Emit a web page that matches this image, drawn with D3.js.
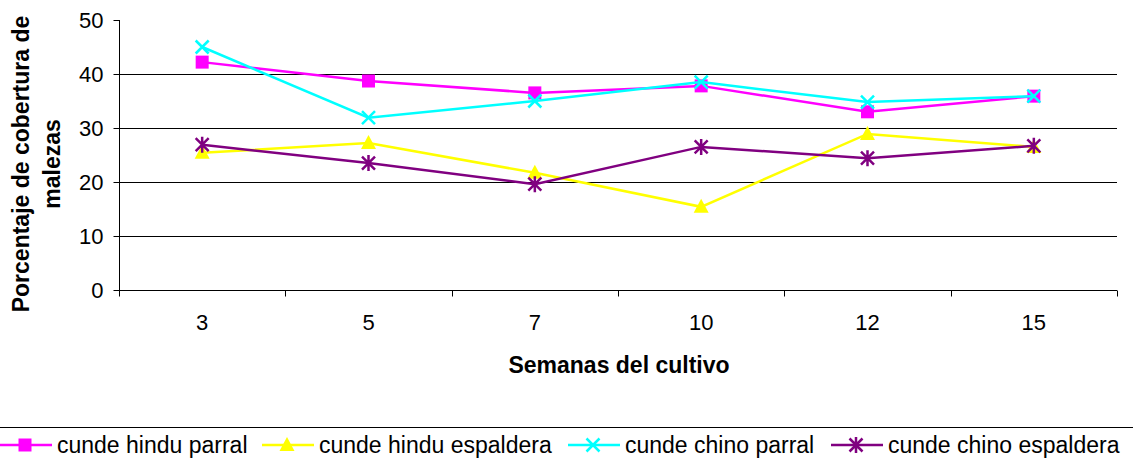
<!DOCTYPE html>
<html>
<head>
<meta charset="utf-8">
<script src="https://cdn.jsdelivr.net/npm/d3@7"></script>
<style>
	body { margin: 0; background: #fff; }
	svg { font-family: 'Liberation Sans', Arial, sans-serif; }
</style>
</head>
<body>
<svg id="chart" width="1133" height="462"></svg>
<script>
const weeks = ['3', '5', '7', '10', '12', '15']
const hinduParral = [42.2, 38.7, 36.5, 37.8, 33.0, 35.9]
const hinduEspaldera = [25.4, 27.2, 21.7, 15.4, 28.9, 26.5]
const chinoParral = [45.0, 31.9, 35.0, 38.5, 34.8, 35.9]
const chinoEspaldera = [26.9, 23.5, 19.6, 26.5, 24.4, 26.7]
const yTicks = [0, 10, 20, 30, 40, 50]

const series = [
	{ name: 'cunde hindu parral', values: hinduParral, color: '#ff00ff', marker: 'square' },
	{ name: 'cunde hindu espaldera', values: hinduEspaldera, color: '#ffff00', marker: 'triangle' },
	{ name: 'cunde chino parral', values: chinoParral, color: '#00ffff', marker: 'cross' },
	{ name: 'cunde chino espaldera', values: chinoEspaldera, color: '#800080', marker: 'star' }
]

const svg = d3.select('#chart')
const plotLeft = 119, plotRight = 1117, plotTop = 20, plotBottom = 290

const x = d3.scaleBand()
	.domain(weeks)
	.range([plotLeft, plotRight])

const y = d3.scaleLinear()
	.domain([0, 50])
	.range([plotBottom, plotTop])

// gridlines
svg.append('g')
	.selectAll('line')
	.data(yTicks.filter(d => d > 0 && d < 50))
	.enter()
	.append('line')
	.attr('x1', plotLeft)
	.attr('x2', plotRight)
	.attr('y1', d => Math.round(y(d)) + 0.5)
	.attr('y2', d => Math.round(y(d)) + 0.5)
	.style('stroke', '#000')

// y axis
const yAxis = svg.append('g')
	.attr('transform', `translate(${plotLeft + 0.5},0)`)
	.call(d3.axisLeft(y).tickValues(yTicks).tickSize(6).tickPadding(10))
yAxis.select('.domain').attr('d', `M0,${plotTop}V${plotBottom + 0.5}`)
yAxis.selectAll('text').style('font-size', '22px').style('fill', '#000')

// x axis
const xAxis = svg.append('g')
	.attr('transform', `translate(0,${plotBottom + 0.5})`)
	.call(d3.axisBottom(x).tickSize(0).tickPadding(24))
xAxis.select('.domain').attr('d', `M${plotLeft},0H${plotRight}`)
xAxis.selectAll('text').style('font-size', '22px').style('fill', '#000')
xAxis.selectAll('.sep')
	.data(weeks.map(d => x(d)).concat([plotRight]))
	.enter()
	.append('line')
	.attr('x1', d => Math.round(d) + 0.5)
	.attr('x2', d => Math.round(d) + 0.5)
	.attr('y1', 0)
	.attr('y2', 6)
	.style('stroke', '#000')

svg.append('text')
	.attr('x', 619)
	.attr('y', 373)
	.attr('text-anchor', 'middle')
	.style('font-size', '23px')
	.style('font-weight', 'bold')
	.text('Semanas del cultivo')

const yTitle = svg.append('text')
	.attr('transform', 'translate(29,164) rotate(-90)')
	.attr('text-anchor', 'middle')
	.style('font-size', '23px')
	.style('font-weight', 'bold')
yTitle.append('tspan').attr('x', 0).attr('dy', 0).text('Porcentaje de cobertura de')
yTitle.append('tspan').attr('x', 0).attr('dy', 31).text('malezas')

const markerPath = (type) => {
	if (type === 'square') return 'M-6.5,-6.5H6.5V6.5H-6.5Z'
	if (type === 'triangle') return 'M0,-8L7.5,6H-7.5Z'
	if (type === 'cross') return 'M-6.5,-6.5L6.5,6.5M-6.5,6.5L6.5,-6.5'
	return 'M-6.5,-6.5L6.5,6.5M-6.5,6.5L6.5,-6.5M0,-8V8'
}

const drawMarker = (sel, s) => {
	const filled = s.marker === 'square' || s.marker === 'triangle'
	sel.append('path')
		.attr('d', markerPath(s.marker))
		.style('fill', filled ? s.color : 'none')
		.style('stroke', filled ? 'none' : s.color)
		.style('stroke-width', 2.5)
}

const line = d3.line()
	.x((d, i) => x(weeks[i]) + x.bandwidth() / 2)
	.y(d => y(d))

const g = svg.selectAll('g.series')
	.data(series)
	.enter()
	.append('g')
	.attr('class', 'series')

g.append('path')
	.attr('d', d => line(d.values))
	.style('fill', 'none')
	.style('stroke', d => d.color)
	.style('stroke-width', 2.5)

g.each(function (s) {
	d3.select(this).selectAll('g.pt')
		.data(s.values)
		.enter()
		.append('g')
		.attr('transform', (d, i) => `translate(${x(weeks[i]) + x.bandwidth() / 2},${y(d)})`)
		.each(function () { drawMarker(d3.select(this), s) })
})

// legend
svg.append('rect')
	.attr('x', -2)
	.attr('y', 427.5)
	.attr('width', 1140)
	.attr('height', 60)
	.style('fill', '#fff')
	.style('stroke', '#000')

const legendX = [0, 262, 568, 831]
const lg = svg.selectAll('g.legend')
	.data(series)
	.enter()
	.append('g')
	.attr('class', 'legend')
	.attr('transform', (d, i) => `translate(${legendX[i]},445)`)

lg.append('line')
	.attr('x1', 0)
	.attr('x2', 52)
	.style('stroke', d => d.color)
	.style('stroke-width', 2.5)

lg.append('g')
	.attr('transform', 'translate(25,0)')
	.each(function (s) { drawMarker(d3.select(this), s) })

lg.append('text')
	.attr('x', 57)
	.attr('y', 7.5)
	.style('font-size', '23px')
	.text(d => d.name)
</script>
</body>
</html>
